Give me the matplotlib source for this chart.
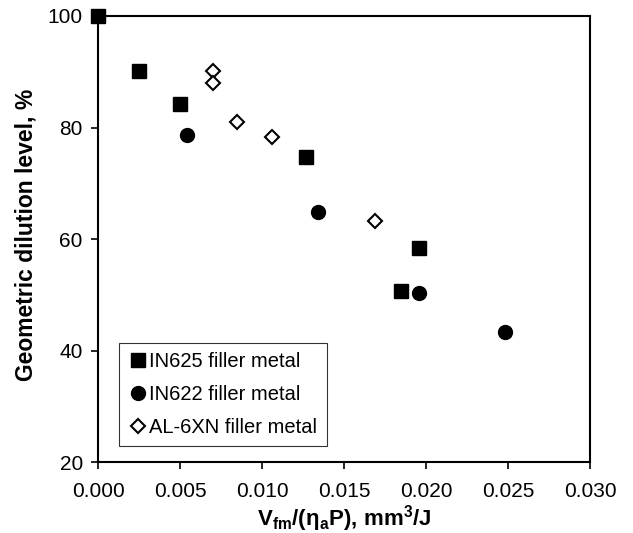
import numpy as np
import matplotlib
matplotlib.use("Agg")
import matplotlib.pyplot as plt

plt.rcParams["font.family"] = ["Liberation Sans", "DejaVu Sans"]
plt.rcParams["mathtext.fontset"] = "custom"
plt.rcParams["mathtext.rm"] = "Liberation Sans"
plt.rcParams["mathtext.bf"] = "Liberation Sans:bold"
plt.rcParams["mathtext.it"] = "Liberation Sans:italic"

# data
in625_x = [0.0, 0.0025, 0.0050, 0.0127, 0.0185, 0.0196]
in625_y = [100.0, 90.1, 84.2, 74.7, 50.7, 58.4]
in622_x = [0.0054, 0.0134, 0.0196, 0.0248]
in622_y = [78.7, 64.8, 50.3, 43.3]
al6xn_x = [0.0070, 0.0070, 0.0085, 0.0106, 0.0169]
al6xn_y = [90.1, 88.0, 81.0, 78.3, 63.2]

x_ticks = [0.000, 0.005, 0.010, 0.015, 0.020, 0.025, 0.030]
y_ticks = [20, 40, 60, 80, 100]

fig = plt.figure(figsize=(6.33, 5.33), dpi=100)
ax = fig.add_axes([0.155, 0.133, 0.777, 0.837])

ax.plot(in625_x, in625_y, "s", color="black", markersize=10, ls="none",
        label="IN625 filler metal", clip_on=False, zorder=5)
ax.plot(in622_x, in622_y, "o", color="black", markersize=10, ls="none",
        label="IN622 filler metal", clip_on=False, zorder=5)
ax.plot(al6xn_x, al6xn_y, "D", mfc="white", mec="black", mew=1.5, markersize=7,
        ls="none", label="AL-6XN filler metal", clip_on=False, zorder=5)

ax.set_xlim(0, 0.030)
ax.set_ylim(20, 100)
ax.set_xticks(x_ticks)
ax.set_xticklabels([f"{v:.3f}" for v in x_ticks])
ax.set_yticks(y_ticks)
ax.tick_params(direction="out", length=5, width=1.2, labelsize=15)
ax.tick_params(axis="x", pad=9)
ax.tick_params(axis="y", pad=6)
for s in ax.spines.values():
    s.set_linewidth(1.5)

ax.set_xlabel(r"$\mathbf{V_{fm}/(η_aP),\,mm^3/J}$", fontsize=16, labelpad=2)
ax.set_ylabel("Geometric dilution level, %", fontsize=16.5, fontweight="bold")
ax.yaxis.set_label_coords(-0.124, 0.509)

leg = ax.legend(loc="lower left", bbox_to_anchor=(0.043, 0.035), fontsize=14.5,
                frameon=True, fancybox=False, handletextpad=0.05,
                borderpad=0.45, labelspacing=0.7, handlelength=1.0,
                borderaxespad=0)
leg.get_frame().set_edgecolor("black")
leg.get_frame().set_linewidth(0.8)

fig.savefig("out.png", dpi=100)
